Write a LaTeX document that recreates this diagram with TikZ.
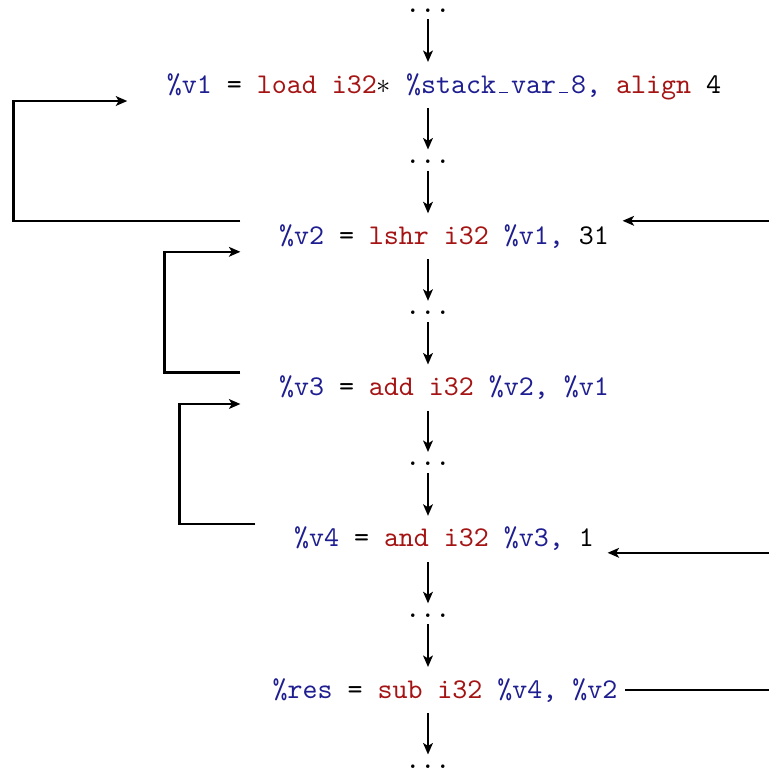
\documentclass[tikz,border=0pt]{standalone}
\usetikzlibrary{arrows.meta,calc}
\definecolor{irvar}{RGB}{30,30,145}
\definecolor{irkw}{RGB}{165,20,20}
\newcommand{\irV}[1]{\textcolor{irvar}{#1}}
\newcommand{\irK}[1]{\textcolor{irkw}{#1}}
\newcommand{\irUS}{\makebox[0.525em]{\rule{0.3em}{0.4pt}}}
\begin{document}
\begin{tikzpicture}[x=0.35pt,y=-0.35pt,
  code/.style={inner sep=0pt, anchor=base, font=\ttfamily},
  dotsn/.style={inner sep=0pt, font=\ttfamily},
  flow/.style={line width=0.75pt, -{Stealth[length=4pt,width=3.4pt,inset=1pt]}},
  plain/.style={line width=0.75pt}]
\useasboundingbox (0,0) rectangle (769,771);
% dots
\node[dotsn] (d0) at (428,10.5) {...};
\node[dotsn] (d1) at (428,161.5) {...};
\node[dotsn] (d2) at (428,312.8) {...};
\node[dotsn] (d3) at (428,464) {...};
\node[dotsn] (d4) at (428,615.3) {...};
\node[dotsn] (d5) at (428,766.5) {...};
% code lines
\node[code] (t1) at (444,93) {\irV{\%v1} = \irK{load} \irK{i32}$*$ \irV{\%stack\irUS var\irUS 8,} \irK{align} 4};
\node[code] (t2) at (444,244.3) {\irV{\%v2} = \irK{lshr} \irK{i32} \irV{\%v1,} 31};
\node[code] (t3) at (444,395.5) {\irV{\%v3} = \irK{add} \irK{i32} \irV{\%v2,} \irV{\%v1}};
\node[code] (t4) at (444,546.8) {\irV{\%v4} = \irK{and} \irK{i32} \irV{\%v3,} 1};
\node[code] (t5) at (445,698) {\irV{\%res} = \irK{sub} \irK{i32} \irV{\%v4,} \irV{\%v2}};
% vertical flow
\draw[flow] ($(d0)+(0,8.5)$) -- ($(d0 |- t1.base)+(0,-31)$);
\draw[flow] ($(d0 |- t1.base)+(0,15)$) -- ($(d1)+(0,-12)$);
\draw[flow] ($(d1)+(0,9)$) -- ($(d1 |- t2.base)+(0,-31)$);
\draw[flow] ($(d1 |- t2.base)+(0,15)$) -- ($(d2)+(0,-12)$);
\draw[flow] ($(d2)+(0,9)$) -- ($(d2 |- t3.base)+(0,-31)$);
\draw[flow] ($(d2 |- t3.base)+(0,15)$) -- ($(d3)+(0,-12)$);
\draw[flow] ($(d3)+(0,9)$) -- ($(d3 |- t4.base)+(0,-31)$);
\draw[flow] ($(d3 |- t4.base)+(0,15)$) -- ($(d4)+(0,-12)$);
\draw[flow] ($(d4)+(0,9)$) -- ($(d4 |- t5.base)+(0,-31)$);
\draw[flow] ($(d4 |- t5.base)+(0,15)$) -- ($(d5)+(0,-12)$);
% left loops
\draw[flow] ($(t2.base west)+(-38,-23.5)$) -- ++(-227,0) |- ($(t1.base west)+(-39,8)$);
\draw[flow] ($(t3.base west)+(-38,-23)$) -- ++(-76,0) |- ($(t2.base west)+(-38,7.5)$);
\draw[flow] ($(t4.base west)+(-38,-23)$) -- ++(-76,0) |- ($(t3.base west)+(-38,8.5)$);
% right side
\coordinate (edge) at (769,0);
\path ($(t2.base east)+(13,-23.5)$) coordinate (a2);
\path ($(t4.base east)+(13,6)$) coordinate (a4);
\path ($(t5.base east)+(7,-8)$) coordinate (a5);
\draw[flow] (edge |- a2) -- (a2);
\draw[flow] (edge |- a4) -- (a4);
\draw[plain] (a5) -- (edge |- a5);
\end{tikzpicture}
\end{document}
